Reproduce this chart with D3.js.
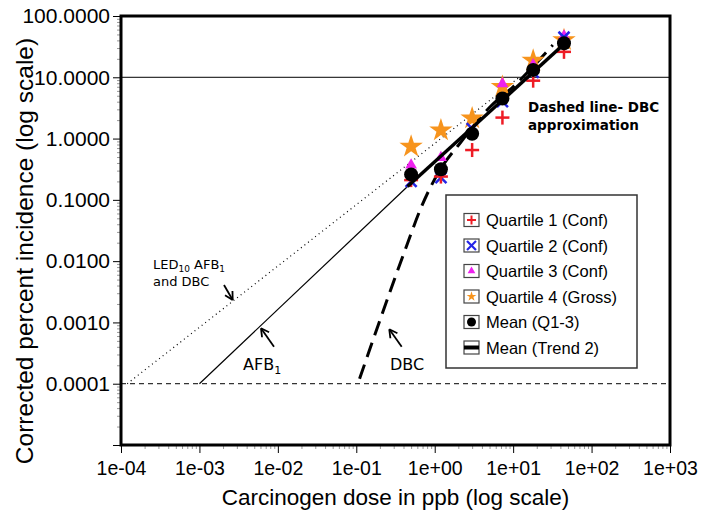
<!DOCTYPE html>
<html lang="en">
<head>
<meta charset="UTF-8">
<script src="https://d3js.org/d3.v7.min.js"></script>
<style>
  body { margin: 0; background: white; }
  svg text { font-family: "Liberation Sans", Arial, sans-serif; }
  .verd { font-family: "DejaVu Sans", Verdana, sans-serif; }
</style>
</head>
<body>
<svg id="chart" width="705" height="521"></svg>
<script>
// dose (ppb) of the six groups
const doses = [0.5, 1.2, 3.0, 7.3, 18, 44.5];
const q1Conf = [0.21, 0.24, 0.65, 2.2, 8.8, 26];
const q2Conf = [0.2, 0.23, 1.45, 4.0, 12, 45];
const q3Conf = [0.37, 0.49, 1.3, 7.8, 16, 47];
const q4Gross = [0.74, 1.36, 2.15, 7.0, 18.8, 40.6];
const meanQ13 = [0.26, 0.315, 1.2, 4.5, 13.2, 36];

// fitted / reference lines
const trendX = [0.45, 48], trendY = [0.165, 38];
const afbX = [1e-3, 0.45], afbY = [1e-4, 0.165];
const ledX = [1.2e-4, 12], ledY = [1e-4, 10];
const dbcX = [0.11, 0.44, 0.65, 1.17, 2.1, 5.1, 10, 32];
const dbcY = [1.2e-4, 0.018, 0.068, 0.31, 0.84, 3.3, 7.0, 33.6];
const solidRef = 10, dashedRef = 1e-4;

const xTicks = [1e-4, 1e-3, 1e-2, 1e-1, 1, 10, 100, 1000];
const xTickLabels = ["1e-04", "1e-03", "1e-02", "1e-01", "1e+00", "1e+01", "1e+02", "1e+03"];
const yTicks = [1e-5, 1e-4, 1e-3, 1e-2, 1e-1, 1, 10, 100];
const yTickLabels = ["", "0.0001", "0.0010", "0.0100", "0.1000", "1.0000", "10.0000", "100.0000"];

const legendItems = ["Quartile 1 (Conf)", "Quartile 2 (Conf)", "Quartile 3 (Conf)",
                     "Quartile 4 (Gross)", "Mean (Q1-3)", "Mean (Trend 2)"];

const RED = "#ee1c25", BLUE = "#2424e6", MAG = "#ee22ee", ORANGE = "#f7941d";

const svg = d3.select("#chart");
const L = 121, R = 670, T = 16, B = 445;

const x = d3.scaleLog().domain([1e-4, 1e3]).range([L, R]);
const y = d3.scaleLog().domain([1e-5, 100]).range([B, T]);

// minor ticks
const minorX = [], minorY = [];
for (let e = -4; e < 3; e++) for (let m = 2; m < 10; m++) minorX.push(m * Math.pow(10, e));
for (let e = -5; e < 2; e++) for (let m = 2; m < 10; m++) minorY.push(m * Math.pow(10, e));

svg.append("g").attr("transform", `translate(0,${B})`)
  .call(d3.axisBottom(x).tickValues(minorX).tickSize(4).tickFormat(""))
  .call(g => g.select(".domain").remove())
  .call(g => g.selectAll("line").attr("stroke", "#999"));
svg.append("g").attr("transform", `translate(${L},0)`)
  .call(d3.axisLeft(y).tickValues(minorY).tickSize(4).tickFormat(""))
  .call(g => g.select(".domain").remove())
  .call(g => g.selectAll("line").attr("stroke", "#999"));

svg.append("g").attr("transform", `translate(0,${B})`)
  .call(d3.axisBottom(x).tickValues(xTicks).tickSize(8).tickPadding(8)
    .tickFormat((d, i) => xTickLabels[i]))
  .call(g => g.select(".domain").remove())
  .call(g => g.selectAll("text").attr("font-size", 19.5).attr("fill", "#000")
    .attr("font-family", "Liberation Sans, Arial"));
svg.append("g").attr("transform", `translate(${L},0)`)
  .call(d3.axisLeft(y).tickValues(yTicks).tickSize(8).tickPadding(3)
    .tickFormat((d, i) => yTickLabels[i]))
  .call(g => g.select(".domain").remove())
  .call(g => g.selectAll("text").attr("font-size", 21).attr("fill", "#000")
    .attr("font-family", "Liberation Sans, Arial"));

// axis titles
svg.append("text").attr("x", (L + R) / 2).attr("y", 505).attr("text-anchor", "middle")
  .attr("font-size", 22.5).text("Carcinogen dose in ppb (log scale)");
svg.append("text").attr("transform", "translate(33,251) rotate(-90)")
  .attr("text-anchor", "middle").attr("font-size", 24.5)
  .text("Corrected percent incidence (log scale)");

// reference lines
svg.append("line").attr("x1", L).attr("x2", R).attr("y1", y(solidRef)).attr("y2", y(solidRef))
  .attr("stroke", "#000").attr("stroke-width", 1);
svg.append("line").attr("x1", L).attr("x2", R).attr("y1", y(dashedRef)).attr("y2", y(dashedRef))
  .attr("stroke", "#000").attr("stroke-width", 1).attr("stroke-dasharray", "5,4");

const lineGen = d3.line().x(d => x(d[0])).y(d => y(d[1]));
const zip = (a, b) => a.map((v, i) => [v, b[i]]);

svg.append("path").datum(zip(ledX, ledY)).attr("d", lineGen)
  .attr("fill", "none").attr("stroke", "#000").attr("stroke-width", 1.2)
  .attr("stroke-dasharray", "1,3.5");
svg.append("path").datum(zip(afbX, afbY)).attr("d", lineGen)
  .attr("fill", "none").attr("stroke", "#000").attr("stroke-width", 1.2);
svg.append("path").datum(zip(dbcX, dbcY))
  .attr("d", d3.line().x(d => x(d[0])).y(d => y(d[1])).curve(d3.curveMonotoneX))
  .attr("fill", "none").attr("stroke", "#000").attr("stroke-width", 3)
  .attr("stroke-dasharray", "15,8");

// points
const star = d3.symbol().type(d3.symbolStar);
const tri = d3.symbol().type(d3.symbolTriangle);
svg.append("g").selectAll("path").data(zip(doses, q4Gross)).join("path")
  .attr("d", star.size(170)())
  .attr("transform", d => `translate(${x(d[0])},${y(d[1])})`).attr("fill", ORANGE);
svg.append("g").selectAll("path").data(zip(doses, q3Conf)).join("path")
  .attr("d", tri.size(60)())
  .attr("transform", d => `translate(${x(d[0])},${y(d[1])})`).attr("fill", MAG);

function plus(g, s, c, w) {
  g.append("line").attr("x1", -s).attr("x2", s).attr("stroke", c).attr("stroke-width", w);
  g.append("line").attr("y1", -s).attr("y2", s).attr("stroke", c).attr("stroke-width", w);
}
function cross(g, s, c, w) {
  g.append("line").attr("x1", -s).attr("y1", -s).attr("x2", s).attr("y2", s).attr("stroke", c).attr("stroke-width", w);
  g.append("line").attr("x1", -s).attr("y1", s).attr("x2", s).attr("y2", -s).attr("stroke", c).attr("stroke-width", w);
}
svg.append("g").selectAll("g").data(zip(doses, q2Conf)).join("g")
  .attr("transform", d => `translate(${x(d[0])},${y(d[1])})`)
  .each(function () { cross(d3.select(this), 5.5, BLUE, 2.5); });
svg.append("g").selectAll("g").data(zip(doses, q1Conf)).join("g")
  .attr("transform", d => `translate(${x(d[0])},${y(d[1])})`)
  .each(function () { plus(d3.select(this), 7, RED, 2.5); });
svg.append("g").selectAll("circle").data(zip(doses, meanQ13)).join("circle")
  .attr("cx", d => x(d[0])).attr("cy", d => y(d[1])).attr("r", 7).attr("fill", "#000");

svg.append("path").datum(zip(trendX, trendY)).attr("d", lineGen)
  .attr("fill", "none").attr("stroke", "#000").attr("stroke-width", 3.5);

// frame
svg.append("rect").attr("x", L).attr("y", T).attr("width", R - L).attr("height", B - T)
  .attr("fill", "none").attr("stroke", "#000").attr("stroke-width", 3);

// annotations
function arrow(x1, y1, x2, y2) {
  svg.append("line").attr("x1", x1).attr("y1", y1).attr("x2", x2).attr("y2", y2)
    .attr("stroke", "#000").attr("stroke-width", 1.8);
  const a = Math.atan2(y2 - y1, x2 - x1), h = 9;
  [-0.5, 0.5].forEach(o => {
    svg.append("line").attr("x1", x2).attr("y1", y2)
      .attr("x2", x2 - h * Math.cos(a + o)).attr("y2", y2 - h * Math.sin(a + o))
      .attr("stroke", "#000").attr("stroke-width", 1.8);
  });
}
arrow(224, 285, 232.7, 300);
arrow(274, 346.7, 261, 328.3);
arrow(401.7, 346.7, 389.3, 329.3);

const led = svg.append("text").attr("class", "verd").attr("x", 153).attr("y", 269).attr("font-size", 13);
led.append("tspan").text("LED");
led.append("tspan").attr("font-size", 9).attr("dy", 3).text("10");
led.append("tspan").attr("dy", -3).text(" AFB");
led.append("tspan").attr("font-size", 9).attr("dy", 3).text("1");
svg.append("text").attr("class", "verd").attr("x", 153).attr("y", 286).attr("font-size", 13).text("and DBC");

const afb = svg.append("text").attr("class", "verd").attr("x", 243).attr("y", 370).attr("font-size", 16);
afb.append("tspan").text("AFB");
afb.append("tspan").attr("font-size", 11).attr("dy", 4).text("1");
svg.append("text").attr("class", "verd").attr("x", 390).attr("y", 370).attr("font-size", 16).text("DBC");

svg.append("text").attr("class", "verd").attr("x", 528).attr("y", 112).attr("font-size", 13.5)
  .attr("font-weight", "bold").text("Dashed line- DBC");
svg.append("text").attr("class", "verd").attr("x", 528).attr("y", 130).attr("font-size", 13.5)
  .attr("font-weight", "bold").text("approximation");

// legend
const lg = svg.append("g");
lg.append("rect").attr("x", 446).attr("y", 195).attr("width", 191).attr("height", 173)
  .attr("fill", "#fff").attr("stroke", "#333").attr("stroke-width", 1.5);
legendItems.forEach((name, i) => {
  const cy = 220 + i * 25.5;
  const g = lg.append("g").attr("transform", `translate(471.5,${cy})`);
  g.append("rect").attr("x", -7.5).attr("y", -6.5).attr("width", 15).attr("height", 13)
    .attr("fill", "#fff").attr("stroke", "#444").attr("stroke-width", 1.2);
  if (i === 0) plus(g, 4.5, RED, 2);
  if (i === 1) cross(g, 4.5, BLUE, 2.2);
  if (i === 2) g.append("path").attr("d", tri.size(26)()).attr("fill", MAG);
  if (i === 3) g.append("path").attr("d", star.size(30)()).attr("fill", ORANGE);
  if (i === 4) g.append("circle").attr("r", 4.5).attr("fill", "#000");
  if (i === 5) g.append("line").attr("x1", -7.5).attr("x2", 7.5).attr("stroke", "#000").attr("stroke-width", 4);
  lg.append("text").attr("x", 486).attr("y", cy + 6).attr("font-size", 16.5).text(name);
});
</script>
</body>
</html>
